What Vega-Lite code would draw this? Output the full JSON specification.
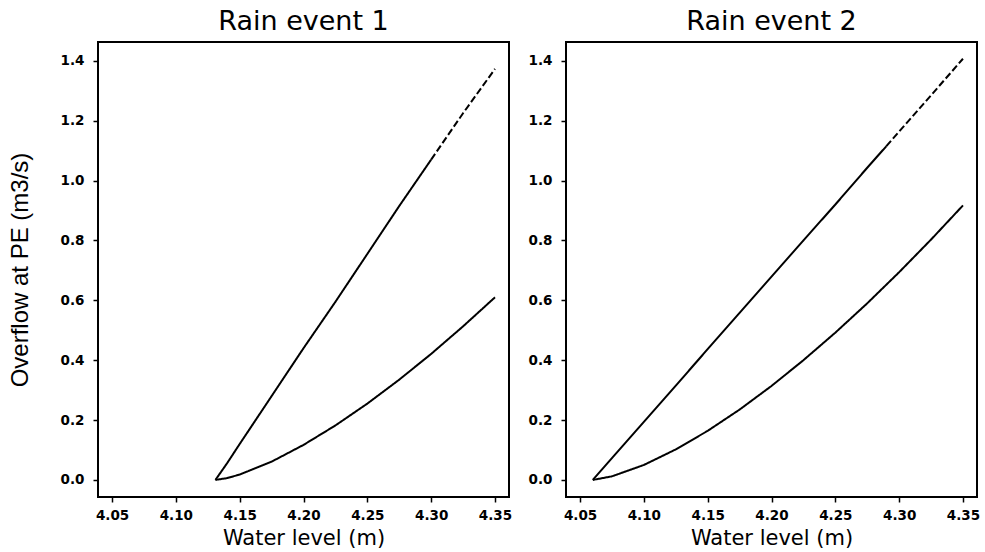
{
  "$schema": "https://vega.github.io/schema/vega-lite/v6.json",
  "background": "white",
  "padding": {"left": 7, "top": 7, "right": 8, "bottom": 4},
  "bounds": "flush",
  "spacing": 57,
  "data": {
    "values": [
      {"ev": 1, "curve": "upper", "seg": "solid", "wl": 4.131, "q": 0},
      {"ev": 1, "curve": "upper", "seg": "solid", "wl": 4.14, "q": 0.055},
      {"ev": 1, "curve": "upper", "seg": "solid", "wl": 4.15, "q": 0.12},
      {"ev": 1, "curve": "upper", "seg": "solid", "wl": 4.175, "q": 0.28},
      {"ev": 1, "curve": "upper", "seg": "solid", "wl": 4.2, "q": 0.44},
      {"ev": 1, "curve": "upper", "seg": "solid", "wl": 4.225, "q": 0.595},
      {"ev": 1, "curve": "upper", "seg": "solid", "wl": 4.25, "q": 0.755},
      {"ev": 1, "curve": "upper", "seg": "solid", "wl": 4.275, "q": 0.915},
      {"ev": 1, "curve": "upper", "seg": "solid", "wl": 4.3, "q": 1.07},
      {"ev": 1, "curve": "upper", "seg": "dashed", "wl": 4.3, "q": 1.07},
      {"ev": 1, "curve": "upper", "seg": "dashed", "wl": 4.325, "q": 1.225},
      {"ev": 1, "curve": "upper", "seg": "dashed", "wl": 4.35, "q": 1.373},
      {"ev": 1, "curve": "lower", "seg": "solid", "wl": 4.131, "q": 0},
      {"ev": 1, "curve": "lower", "seg": "solid", "wl": 4.14, "q": 0.006},
      {"ev": 1, "curve": "lower", "seg": "solid", "wl": 4.15, "q": 0.018},
      {"ev": 1, "curve": "lower", "seg": "solid", "wl": 4.175, "q": 0.061},
      {"ev": 1, "curve": "lower", "seg": "solid", "wl": 4.2, "q": 0.117},
      {"ev": 1, "curve": "lower", "seg": "solid", "wl": 4.225, "q": 0.182},
      {"ev": 1, "curve": "lower", "seg": "solid", "wl": 4.25, "q": 0.255},
      {"ev": 1, "curve": "lower", "seg": "solid", "wl": 4.275, "q": 0.335},
      {"ev": 1, "curve": "lower", "seg": "solid", "wl": 4.3, "q": 0.421},
      {"ev": 1, "curve": "lower", "seg": "solid", "wl": 4.325, "q": 0.513},
      {"ev": 1, "curve": "lower", "seg": "solid", "wl": 4.35, "q": 0.61},
      {"ev": 2, "curve": "upper", "seg": "solid", "wl": 4.06, "q": 0},
      {"ev": 2, "curve": "upper", "seg": "solid", "wl": 4.075, "q": 0.073},
      {"ev": 2, "curve": "upper", "seg": "solid", "wl": 4.1, "q": 0.194},
      {"ev": 2, "curve": "upper", "seg": "solid", "wl": 4.125, "q": 0.315},
      {"ev": 2, "curve": "upper", "seg": "solid", "wl": 4.15, "q": 0.437},
      {"ev": 2, "curve": "upper", "seg": "solid", "wl": 4.175, "q": 0.558},
      {"ev": 2, "curve": "upper", "seg": "solid", "wl": 4.2, "q": 0.679},
      {"ev": 2, "curve": "upper", "seg": "solid", "wl": 4.225, "q": 0.8},
      {"ev": 2, "curve": "upper", "seg": "solid", "wl": 4.25, "q": 0.92},
      {"ev": 2, "curve": "upper", "seg": "solid", "wl": 4.275, "q": 1.043},
      {"ev": 2, "curve": "upper", "seg": "solid", "wl": 4.29, "q": 1.115},
      {"ev": 2, "curve": "upper", "seg": "dashed", "wl": 4.29, "q": 1.115},
      {"ev": 2, "curve": "upper", "seg": "dashed", "wl": 4.3, "q": 1.164},
      {"ev": 2, "curve": "upper", "seg": "dashed", "wl": 4.325, "q": 1.285},
      {"ev": 2, "curve": "upper", "seg": "dashed", "wl": 4.35, "q": 1.407},
      {"ev": 2, "curve": "lower", "seg": "solid", "wl": 4.06, "q": 0},
      {"ev": 2, "curve": "lower", "seg": "solid", "wl": 4.075, "q": 0.012},
      {"ev": 2, "curve": "lower", "seg": "solid", "wl": 4.1, "q": 0.05},
      {"ev": 2, "curve": "lower", "seg": "solid", "wl": 4.125, "q": 0.102},
      {"ev": 2, "curve": "lower", "seg": "solid", "wl": 4.15, "q": 0.164},
      {"ev": 2, "curve": "lower", "seg": "solid", "wl": 4.175, "q": 0.235},
      {"ev": 2, "curve": "lower", "seg": "solid", "wl": 4.2, "q": 0.314},
      {"ev": 2, "curve": "lower", "seg": "solid", "wl": 4.225, "q": 0.4},
      {"ev": 2, "curve": "lower", "seg": "solid", "wl": 4.25, "q": 0.492},
      {"ev": 2, "curve": "lower", "seg": "solid", "wl": 4.275, "q": 0.59},
      {"ev": 2, "curve": "lower", "seg": "solid", "wl": 4.3, "q": 0.694},
      {"ev": 2, "curve": "lower", "seg": "solid", "wl": 4.325, "q": 0.803},
      {"ev": 2, "curve": "lower", "seg": "solid", "wl": 4.35, "q": 0.917}
    ]
  },
  "config": {
    "view": {"stroke": "black", "strokeWidth": 2},
    "axis": {
      "domain": false, "grid": false, "ticks": true, "tickColor": "black", "tickSize": 5, "tickWidth": 1.5,
      "labelFont": "DejaVu Sans", "labelFontSize": 13.5, "labelFontWeight": "bold", "labelColor": "black", "labelFlush": false, "labelOverlap": false,
      "titleFont": "DejaVu Sans", "titleFontWeight": "normal", "titleColor": "black"
    },
    "title": {"font": "DejaVu Sans", "fontSize": 27, "fontWeight": "normal", "color": "black", "anchor": "middle", "offset": 6}
  },
  "hconcat": [
    {
      "width": 411, "height": 455,
      "title": "Rain event 1",
      "transform": [{"filter": "datum.ev == 1"}],
      "mark": {"type": "line", "color": "black", "strokeWidth": 2},
      "encoding": {
        "x": {"field": "wl", "type": "quantitative", "scale": {"domain": [4.039, 4.361], "nice": false, "zero": false},
              "axis": {"values": [4.05, 4.1, 4.15, 4.2, 4.25, 4.3, 4.35], "format": ".2f", "title": "Water level (m)", "titleFontSize": 21, "labelPadding": 6, "titlePadding": 6}},
        "y": {"field": "q", "type": "quantitative", "scale": {"domain": [-0.057, 1.463], "nice": false, "zero": false},
              "axis": {"values": [0, 0.2, 0.4, 0.6, 0.8, 1.0, 1.2, 1.4], "format": ".1f", "title": "Overflow at PE (m3/s)", "titleFont": "Liberation Sans", "titleFontSize": 24, "labelPadding": 9, "titlePadding": 28}},
        "detail": {"field": "curve"},
        "strokeDash": {"field": "seg", "type": "nominal", "scale": {"domain": ["solid", "dashed"], "range": [[1, 0], [7, 3]]}, "legend": null}
      }
    },
    {
      "width": 411, "height": 455,
      "title": "Rain event 2",
      "transform": [{"filter": "datum.ev == 2"}],
      "mark": {"type": "line", "color": "black", "strokeWidth": 2},
      "encoding": {
        "x": {"field": "wl", "type": "quantitative", "scale": {"domain": [4.039, 4.361], "nice": false, "zero": false},
              "axis": {"values": [4.05, 4.1, 4.15, 4.2, 4.25, 4.3, 4.35], "format": ".2f", "title": "Water level (m)", "titleFontSize": 21, "labelPadding": 6, "titlePadding": 6}},
        "y": {"field": "q", "type": "quantitative", "scale": {"domain": [-0.057, 1.463], "nice": false, "zero": false},
              "axis": {"values": [0, 0.2, 0.4, 0.6, 0.8, 1.0, 1.2, 1.4], "format": ".1f", "title": null, "labelPadding": 9}},
        "detail": {"field": "curve"},
        "strokeDash": {"field": "seg", "type": "nominal", "scale": {"domain": ["solid", "dashed"], "range": [[1, 0], [7, 3]]}, "legend": null}
      }
    }
  ]
}
